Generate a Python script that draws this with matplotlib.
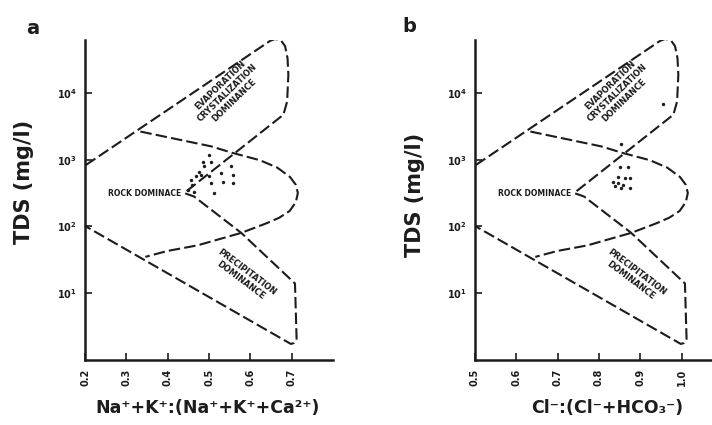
import matplotlib
matplotlib.use("Agg")
import matplotlib.pyplot as plt

# --- DATA ---
# Gibbs outline, drawn for the cation panel; the anion panel uses the same
# template moved along the ratio axis.
outer_ratio = [0.202, 0.648, 0.660, 0.674, 0.684, 0.690, 0.692, 0.689, 0.680,
               0.440, 0.464, 0.578, 0.708, 0.712, 0.706, 0.698, 0.202]
outer_tds = [830, 60000, 64000, 61000, 50000, 33000, 18600, 7400, 4700,
             316, 280, 80, 14, 2.0, 1.8, 1.74, 100]

inner_ratio = [0.334, 0.505, 0.557, 0.623, 0.665, 0.696, 0.710, 0.715,
               0.710, 0.695, 0.670, 0.640, 0.578, 0.472, 0.400, 0.346]
inner_tds = [2630, 1580, 1260, 980, 760, 550, 420, 316,
             230, 170, 135, 112, 80, 52, 43, 35]

template_shift = {"a": 0.0, "b": 0.3}

# samples, panel a: Na+K/(Na+K+Ca) vs TDS
cation_ratio = [0.501, 0.485, 0.505, 0.489, 0.476, 0.468, 0.456, 0.460, 0.448,
                0.480, 0.501, 0.529, 0.554, 0.558, 0.533, 0.558, 0.505, 0.513,
                0.464]
cation_tds = [1170, 930, 910, 790, 660, 560, 500, 420, 355,
              590, 560, 630, 790, 590, 470, 450, 450, 316,
              330]

# samples, panel b: Cl/(Cl+HCO3) vs TDS
anion_ratio = [0.854, 0.850, 0.870, 0.846, 0.862, 0.875, 0.834, 0.846, 0.858,
               0.838, 0.854, 0.875, 0.956]
anion_tds = [1740, 780, 780, 550, 525, 525, 470, 440, 420,
             400, 370, 370, 6900]

x_ticks = {"a": [0.2, 0.3, 0.4, 0.5, 0.6, 0.7],
           "b": [0.5, 0.6, 0.7, 0.8, 0.9, 1.0]}
x_labels = {"a": "Na⁺+K⁺:(Na⁺+K⁺+Ca²⁺)", "b": "Cl⁻:(Cl⁻+HCO₃⁻)"}
y_ticks = [10, 100, 1000, 10000]
y_tick_labels = ["$10^1$", "$10^2$", "$10^3$", "$10^4$"]

# --- STYLE ---
plt.rcParams["font.family"] = ["DejaVu Sans"]
plt.rcParams["font.weight"] = "bold"
INK = "#1c1c1c"
DASH = (0, (5.5, 2.0))

fig = plt.figure(figsize=(7.12, 4.25), dpi=100)
ax_a = fig.add_axes([0.1194, 0.1529, 0.3483, 0.7529])
ax_b = fig.add_axes([0.6671, 0.1529, 0.3483, 0.7529])

panels = [
    (ax_a, "a", (0.2, 0.8), cation_ratio, cation_tds),
    (ax_b, "b", (0.5, 1.1), anion_ratio, anion_tds),
]

for ax, key, xlim, xs, ys in panels:
    s = template_shift[key]
    ax.plot([x + s for x in outer_ratio], outer_tds, color=INK, lw=1.5,
            ls=DASH, dash_capstyle="butt")
    ax.plot([x + s for x in inner_ratio], inner_tds, color=INK, lw=1.5,
            ls=DASH, dash_capstyle="butt")
    ax.scatter(xs, ys, s=6, color=INK, marker="o", linewidths=0)

    ax.set_yscale("log")
    ax.set_xlim(*xlim)
    ax.set_ylim(1, 10 ** 4.79)
    ax.set_yticks(y_ticks)
    ax.set_yticklabels(y_tick_labels)
    ax.minorticks_off()
    ax.set_xticks(x_ticks[key])
    ax.set_xticklabels([f"{t:.1f}" for t in x_ticks[key]], rotation=90)
    ax.tick_params(axis="both", direction="in", length=5, width=1.2,
                   color=INK, labelsize=7, labelcolor=INK, pad=6)
    for side in ["top", "right"]:
        ax.spines[side].set_visible(False)
    for side in ["left", "bottom"]:
        ax.spines[side].set_linewidth(1.8)
        ax.spines[side].set_color(INK)
    ax.patch.set_alpha(0)

    # region labels
    ax.text(0.545 + s, 1.0e4, "EVAPORATION\nCRYSTALIZATION\nDOMINANCE",
            rotation=44, rotation_mode="anchor", ha="center", va="center",
            fontsize=6, linespacing=1.15, color=INK)
    ax.text(0.432 + s, 316, "ROCK DOMINACE", ha="right", va="center",
            fontsize=5.5, color=INK)
    ax.text(0.585 + s, 18, "PRECIPITATION\nDOMINANCE",
            rotation=-37, rotation_mode="anchor", ha="center", va="center",
            fontsize=6, linespacing=1.15, color=INK)

# axis titles and panel letters
fig.text(24 / 712, 1 - 182 / 425, "TDS (mg/l)", rotation=90, ha="center",
         va="center", fontsize=15, color=INK)
fig.text(415 / 712, 1 - 195 / 425, "TDS (mg/l)", rotation=90, ha="center",
         va="center", fontsize=15, color=INK)
fig.text(208 / 712, 1 - 408 / 425, x_labels["a"], ha="center", va="center",
         fontsize=12.5, color=INK)
fig.text(607 / 712, 1 - 408 / 425, x_labels["b"], ha="center", va="center",
         fontsize=12.5, color=INK)
fig.text(33 / 712, 1 - 29 / 425, "a", ha="center", va="center",
         fontsize=14, color=INK)
fig.text(409 / 712, 1 - 27 / 425, "b", ha="center", va="center",
         fontsize=14, color=INK)

fig.savefig("out.png", dpi=100)
